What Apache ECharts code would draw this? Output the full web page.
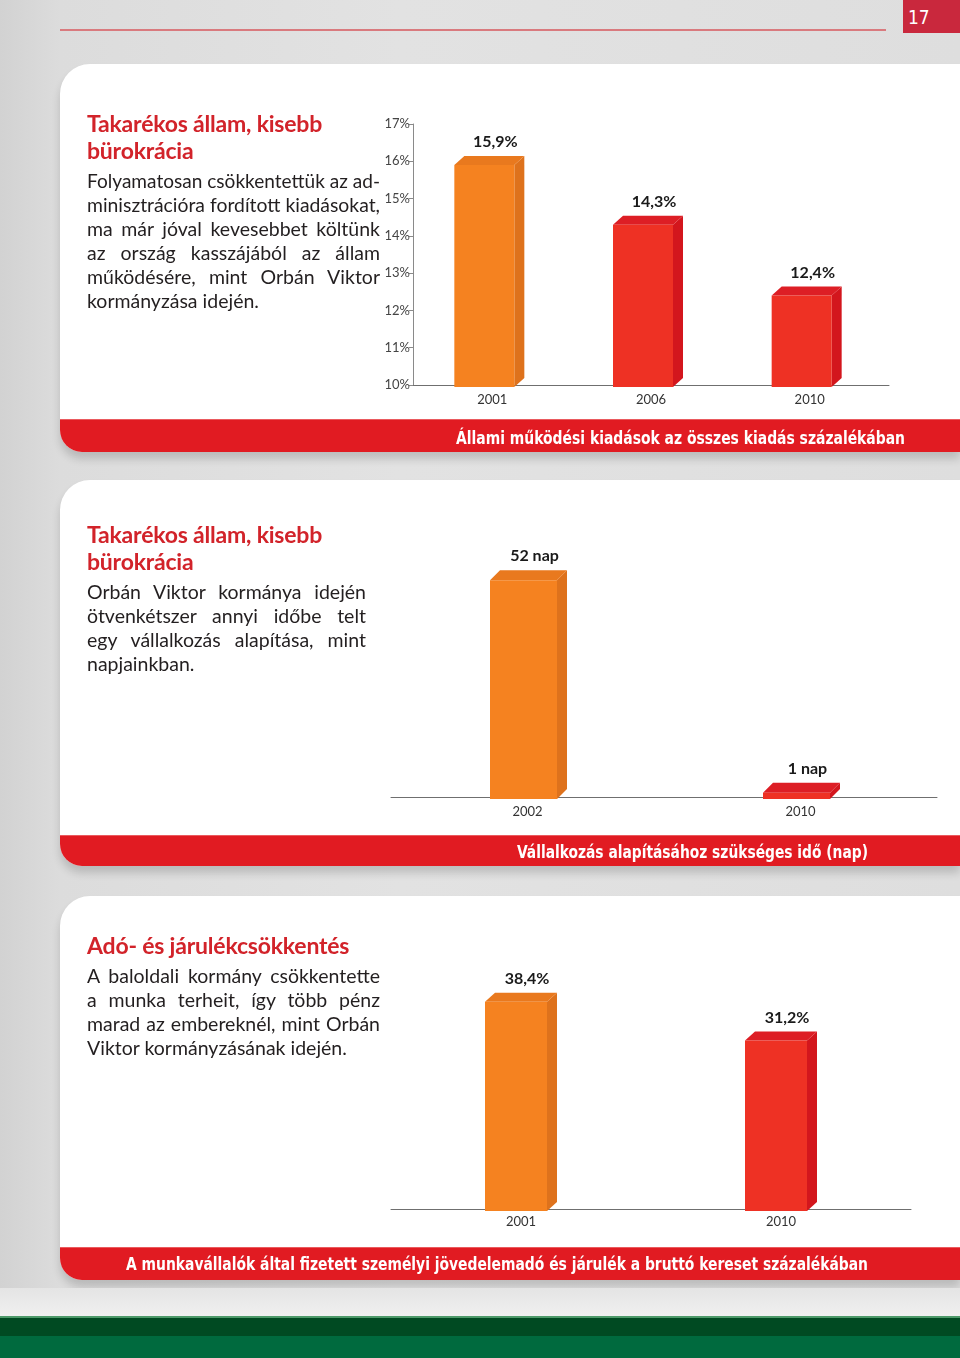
<!DOCTYPE html>
<html><head><meta charset="utf-8">
<script src="https://cdn.jsdelivr.net/npm/echarts@6/dist/echarts.min.js"></script>
<style>
html,body{margin:0;padding:0;}
body{width:960px;height:1358px;position:relative;overflow:hidden;
 background:linear-gradient(90deg,#d2d2d2 0px,#dcdcdc 60px,#e2e2e2 400px,#dedede 960px);
 font-family:Lato,'Noto Sans',sans-serif;}
.card{position:absolute;left:60px;right:0;background:#fff;border-top-left-radius:30px;border-bottom-left-radius:22px;box-shadow:0 7px 9px rgba(0,0,0,0.16);}
.banner{position:absolute;left:0;right:0;bottom:0;background:#e11b22;border-bottom-left-radius:22px;border-top:1px solid #ea5a5e;}
.btxt{position:absolute;white-space:nowrap;color:#fff;font-weight:bold;font-family:'Liberation Sans Narrow','DejaVu Sans Condensed',sans-serif;font-size:18px;line-height:20px;transform-origin:0 50%;}
.title{position:absolute;left:87px;color:#d2232a;font-weight:bold;font-size:23px;line-height:27px;white-space:nowrap;letter-spacing:-0.2px;}
.para{position:absolute;left:87px;color:#231f20;font-size:19.5px;line-height:24px;}
.para div{white-space:nowrap;transform-origin:0 50%;}
#chart{position:absolute;left:0;top:0;width:960px;height:1358px;z-index:2;}
.txt{z-index:3;}
</style></head>
<body>
<div style="position:absolute;left:60px;top:29px;width:826px;height:2px;background:#d97a7e;"></div>
<div style="position:absolute;left:903px;top:0;width:57px;height:33px;background:#c9283d;"></div>
<div style="position:absolute;left:908px;top:6px;color:#fff;font-size:19px;line-height:22px;font-family:'Liberation Sans Narrow','DejaVu Sans Condensed',sans-serif;">17</div>

<div class="card" style="top:64px;height:388px;"><div class="banner" style="height:32px;"></div></div>
<div class="card" style="top:480px;height:386px;"><div class="banner" style="height:30px;"></div></div>
<div class="card" style="top:896px;height:384px;"><div class="banner" style="height:32px;"></div></div>

<div style="position:absolute;left:0;top:1288px;width:960px;height:28px;background:linear-gradient(180deg,#e4e4e4,#f0f0f0);"></div>
<div style="position:absolute;left:0;top:1316px;width:960px;height:2px;background:#4d9a6a;"></div>
<div style="position:absolute;left:0;top:1318px;width:960px;height:18px;background:#004a22;"></div>
<div style="position:absolute;left:0;top:1336px;width:960px;height:22px;background:#006a3e;"></div>

<div class="btxt txt" data-l="456" data-r="905" style="left:456px;top:428px;">Állami működési kiadások az összes kiadás százalékában</div>
<div class="btxt txt" data-l="517" data-r="868" style="left:517px;top:842px;">Vállalkozás alapításához szükséges idő (nap)</div>
<div class="btxt txt" data-l="126" data-r="868" style="left:126px;top:1254px;">A munkavállalók által fizetett személyi jövedelemadó és járulék a bruttó kereset százalékában</div>

<div class="title txt" style="top:110px;">Takarékos állam, kisebb<br>bürokrácia</div>
<div class="para txt" data-w="293" style="top:169px;width:293px;">
<div class="j">Folyamatosan csökkentettük az ad-</div>
<div class="j">minisztrációra fordított kiadásokat,</div>
<div class="j">ma már jóval kevesebbet költünk</div>
<div class="j">az ország kasszájából az állam</div>
<div class="j">működésére, mint Orbán Viktor</div>
<div>kormányzása idején.</div>
</div>

<div class="title txt" style="top:521px;">Takarékos állam, kisebb<br>bürokrácia</div>
<div class="para txt" data-w="279" style="top:580px;width:279px;">
<div class="j">Orbán Viktor kormánya idején</div>
<div class="j">ötvenkétszer annyi időbe telt</div>
<div class="j">egy vállalkozás alapítása, mint</div>
<div>napjainkban.</div>
</div>

<div class="title txt" style="top:932px;">Adó- és járulékcsökkentés</div>
<div class="para txt" data-w="293" style="top:964px;width:293px;">
<div class="j">A baloldali kormány csökkentette</div>
<div class="j">a munka terheit, így több pénz</div>
<div class="j">marad az embereknél, mint Orbán</div>
<div>Viktor kormányzásának idején.</div>
</div>

<div id="chart"></div>
<script>
// ---- data ----
const cats1 = ['2001', '2006', '2010'];
const vals1 = [15.9, 14.3, 12.4];
const cats2 = ['2002', '2010'];
const vals2 = [52, 1];
const cats3 = ['2001', '2010'];
const vals3 = [38.4, 31.2];
const yTicks1 = { min: 10, max: 17, interval: 1 };

// ---- text fitting ----
document.querySelectorAll('.btxt').forEach(el => {
  const target = +el.dataset.r - +el.dataset.l;
  const w = el.getBoundingClientRect().width;
  el.style.transform = 'scaleX(' + (target / w) + ')';
});
document.querySelectorAll('.para').forEach(p => {
  const target = +p.dataset.w;
  p.querySelectorAll('div').forEach(d => {
    const span = document.createElement('span');
    span.textContent = d.textContent;
    d.textContent = '';
    d.appendChild(span);
    const w = span.getBoundingClientRect().width;
    if (d.classList.contains('j')) {
      if (w <= target) { d.style.textAlign = 'justify'; d.style.textAlignLast = 'justify'; d.style.whiteSpace = 'normal'; }
      else { d.style.transform = 'scaleX(' + (target / w) + ')'; }
    }
  });
});

// ---- chart ----
const ORANGE = { front: '#f58220', side: '#de721c', top: '#e9791e' };
const RED = { front: '#ee3124', side: '#d3161d', top: '#dd1e25' };
const pct = v => v.toFixed(1).replace('.', ',') + '%';
const nap = v => v + ' nap';

function bar3d(cfg) {
  return function (params, api) {
    const i = api.value(0), v = api.value(1);
    const p = api.coord([i, v]);
    const b = api.coord([i, cfg.base]);
    const cx = p[0] + cfg.shift;
    const x0 = cx - cfg.w / 2, x1 = cx + cfg.w / 2;
    const dx = cfg.dx, dy = cfg.dy;
    const yt = p[1], yb = b[1] + 2;
    const c = i === 0 ? ORANGE : RED;
    return {
      type: 'group', children: [
        { type: 'polygon', shape: { points: [[x1, yt], [x1 + dx, yt - dy], [x1 + dx, yb - dy], [x1, yb]] }, style: { fill: c.side } },
        { type: 'polygon', shape: { points: [[x0, yt], [x0 + dx, yt - dy], [x1 + dx, yt - dy], [x1, yt]] }, style: { fill: c.top } },
        { type: 'rect', shape: { x: x0, y: yt, width: cfg.w, height: yb - yt }, style: { fill: c.front } },
        { type: 'text', x: cx + 11, y: yt - dy - 14, style: { text: cfg.fmt(v), align: 'center', verticalAlign: 'middle', font: 'bold 16px Lato, "Noto Sans", sans-serif', fill: '#1a1a1a' } }
      ]
    };
  };
}

const axisLineStyle = { color: '#6f6f6f', width: 1 };
const xLabel = { color: '#333', fontSize: 13, fontFamily: 'Lato, "Noto Sans", sans-serif', margin: 8 };

const chart = echarts.init(document.getElementById('chart'), null, { renderer: 'canvas' });
chart.setOption({
  backgroundColor: 'transparent',
  animation: false,
  grid: [
    { left: 413, top: 124, width: 476, height: 261 },
    { left: 391, top: 547, width: 546, height: 250 },
    { left: 391, top: 966, width: 520, height: 243 }
  ],
  xAxis: [
    { gridIndex: 0, type: 'category', data: cats1, axisLine: { lineStyle: axisLineStyle }, axisTick: { length: 5, lineStyle: { color: '#999' } }, axisLabel: xLabel },
    { gridIndex: 1, type: 'category', data: cats2, axisLine: { lineStyle: axisLineStyle }, axisTick: { length: 5, lineStyle: { color: '#999' } }, axisLabel: xLabel },
    { gridIndex: 2, type: 'category', data: cats3, axisLine: { lineStyle: axisLineStyle }, axisTick: { length: 5, lineStyle: { color: '#999' } }, axisLabel: Object.assign({}, xLabel, { margin: 6 }) }
  ],
  yAxis: [
    { gridIndex: 0, type: 'value', min: yTicks1.min, max: yTicks1.max, interval: yTicks1.interval,
      axisLine: { show: true, lineStyle: { color: '#8a8a8a' } }, axisTick: { show: true, length: 4, lineStyle: { color: '#8a8a8a' } },
      axisLabel: { formatter: '{value}%', color: '#444', fontSize: 13, margin: 3, fontFamily: 'Lato, "Noto Sans", sans-serif' },
      splitLine: { show: false } },
    { gridIndex: 1, type: 'value', min: 0, max: 60, show: false, splitLine: { show: false } },
    { gridIndex: 2, type: 'value', min: 0, max: 45, show: false, splitLine: { show: false } }
  ],
  series: [
    { type: 'custom', xAxisIndex: 0, yAxisIndex: 0, z: 5, encode: { x: 0, y: 1 },
      renderItem: bar3d({ w: 60, shift: -8, dx: 10, dy: 9, base: yTicks1.min, fmt: pct }),
      data: vals1.map((v, i) => [i, v]) },
    { type: 'custom', xAxisIndex: 1, yAxisIndex: 1, z: 5, encode: { x: 0, y: 1 },
      renderItem: bar3d({ w: 67, shift: -4, dx: 10, dy: 10, base: 0, fmt: nap }),
      data: vals2.map((v, i) => [i, v]) },
    { type: 'custom', xAxisIndex: 2, yAxisIndex: 2, z: 5, encode: { x: 0, y: 1 },
      renderItem: bar3d({ w: 62, shift: -5, dx: 10, dy: 9, base: 0, fmt: pct }),
      data: vals3.map((v, i) => [i, v]) }
  ]
});
</script>
</body></html>
